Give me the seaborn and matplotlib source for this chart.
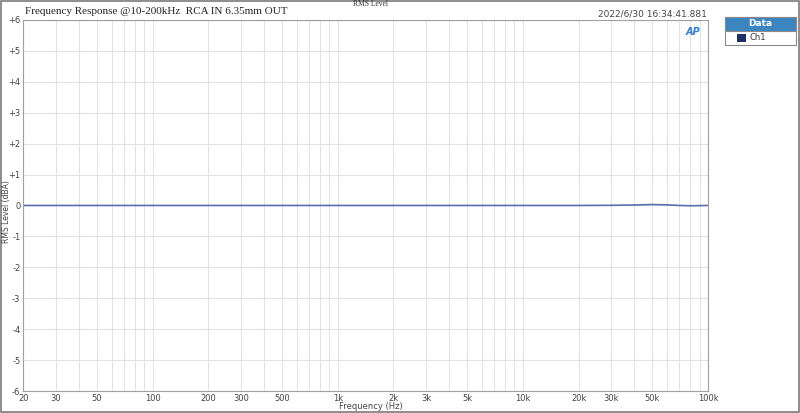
import matplotlib
matplotlib.use("Agg")
import matplotlib.pyplot as plt
import matplotlib.patches as mpatches
from matplotlib.ticker import FixedLocator, NullFormatter
import seaborn as sns
import pandas as pd

# Values.
freqs = [20, 50, 100, 200, 500, 1000, 2000, 5000, 10000, 20000, 30000,
         40000, 50000, 60000, 70000, 80000, 100000]
levels = [0.0, 0.0, 0.0, 0.0, 0.0, 0.0, 0.0, 0.0, 0.0, 0.0, 0.005,
          0.015, 0.03, 0.02, 0.0, -0.01, 0.0]
x_ticks = [20, 30, 50, 100, 200, 300, 500, 1000, 2000, 3000, 5000,
           10000, 20000, 30000, 50000, 100000]
x_labels = ["20", "30", "50", "100", "200", "300", "500", "1k", "2k", "3k",
            "5k", "10k", "20k", "30k", "50k", "100k"]
y_ticks = [-6, -5, -4, -3, -2, -1, 0, 1, 2, 3, 4, 5, 6]
y_labels = ["-6", "-5", "-4", "-3", "-2", "-1", "0", "+1", "+2", "+3", "+4", "+5", "+6"]

df = pd.DataFrame({"Frequency": freqs, "Level": levels})

sns.set_style("white")
plt.rcParams['font.family'] = ['DejaVu Sans']

fig = plt.figure(figsize=(8, 4.13), dpi=100)
ax = fig.add_axes([0.029, 0.053, 0.856, 0.899])

sns.lineplot(data=df, x="Frequency", y="Level", ax=ax, color="#5a6fae", linewidth=1.2)

ax.set_xscale("log")
ax.set_xlim(20, 100000)
ax.set_ylim(-6, 6)

# grid lines at every 1-9 decade step
minor = []
for dec in [10, 100, 1000, 10000]:
    for m in range(1, 10):
        v = dec * m
        if 20 <= v <= 100000:
            minor.append(v)
ax.xaxis.set_major_locator(FixedLocator(x_ticks))
ax.xaxis.set_minor_locator(FixedLocator(minor))
ax.xaxis.set_minor_formatter(NullFormatter())
ax.set_xticks(x_ticks)
ax.set_xticklabels(x_labels)
ax.set_yticks(y_ticks)
ax.set_yticklabels(y_labels)
ax.grid(True, which="both", axis="x", color="#e3e3e3", linewidth=0.8)
ax.grid(True, which="major", axis="y", color="#e3e3e3", linewidth=0.8)
ax.tick_params(axis="both", which="both", length=0, labelsize=6, colors="#444444", pad=2)
for s in ax.spines.values():
    s.set_color("#a0a0a0")
    s.set_linewidth(0.8)
ax.set_xlabel("")
ax.set_ylabel("")

# axis titles placed as figure text, like the reference
fig.text(0.463, 0.016, "Frequency (Hz)", fontsize=6, color="#444444",
         ha="center", va="center")
fig.text(0.008, 0.488, "RMS Level (dBA)", fontsize=5.5, color="#444444",
         ha="center", va="center", rotation=90)

# titles
fig.text(0.031, 0.972, "Frequency Response @10-200kHz  RCA IN 6.35mm OUT",
         fontsize=8, family="Liberation Serif", color="#222222", va="center")
fig.text(0.463, 0.990, "RMS Level", fontsize=5.5, family="Liberation Serif",
         color="#333333", ha="center", va="center")
fig.text(0.883, 0.966, "2022/6/30 16:34:41.881", fontsize=6.5,
         color="#444444", ha="right", va="center")
fig.text(0.866, 0.922, "AP", fontsize=7, color="#2f7fd6", fontweight="bold",
         style="italic", ha="center", va="center")

# legend box
fig.patches.append(mpatches.Rectangle((0.906, 0.892), 0.089, 0.068, transform=fig.transFigure,
                                      facecolor="white", edgecolor="#8a8a8a", linewidth=0.8))
fig.patches.append(mpatches.Rectangle((0.906, 0.925), 0.089, 0.035, transform=fig.transFigure,
                                      facecolor="#3c86c0", edgecolor="#8a8a8a", linewidth=0.8))
fig.text(0.9505, 0.943, "Data", fontsize=6.5, color="white", fontweight="bold",
         ha="center", va="center")
fig.patches.append(mpatches.Rectangle((0.921, 0.899), 0.011, 0.019, transform=fig.transFigure,
                                      facecolor="#1a2f6b", edgecolor="none"))
fig.text(0.937, 0.908, "Ch1", fontsize=6, color="#333333", va="center")

# outer frame
fig.patches.append(mpatches.Rectangle((0.001, 0.002), 0.998, 0.996, transform=fig.transFigure,
                                      facecolor="none", edgecolor="#7a7a7a", linewidth=1.2))

fig.savefig("out.png", dpi=100)
